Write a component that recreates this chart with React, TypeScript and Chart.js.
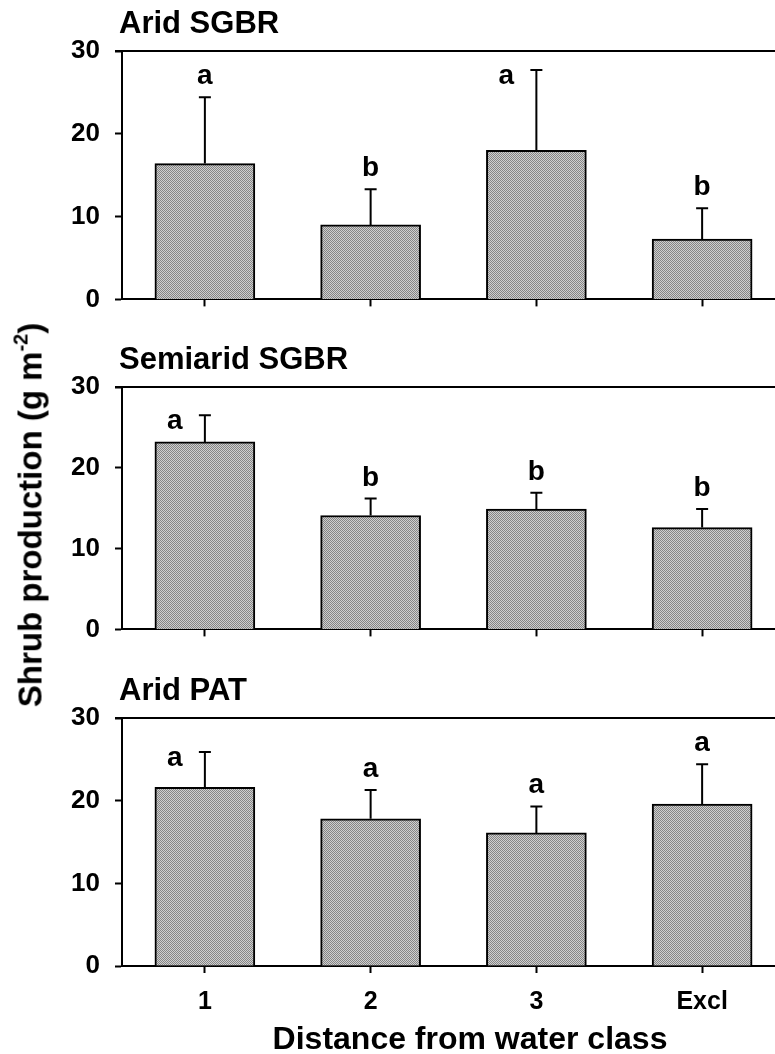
import React, { useEffect, useRef } from 'react';
import { Chart, registerables } from 'chart.js';

Chart.register(...registerables);

const FONT = '"Liberation Sans", Arial, Helvetica, sans-serif';

const categories = ['1', '2', '3', 'Excl'];
const yTicks = [0, 10, 20, 30];

const aridSgbrTitle = 'Arid SGBR';
const aridSgbrMean = [16.4, 9.0, 18.0, 7.3];
const aridSgbrSe = [8.0, 4.3, 9.7, 3.7];
const aridSgbrLetters = ['a', 'b', 'a', 'b'];

const semiaridSgbrTitle = 'Semiarid SGBR';
const semiaridSgbrMean = [23.2, 14.1, 14.9, 12.6];
const semiaridSgbrSe = [3.3, 2.1, 2.0, 2.3];
const semiaridSgbrLetters = ['a', 'b', 'b', 'b'];

const aridPatTitle = 'Arid PAT';
const aridPatMean = [21.6, 17.8, 16.1, 19.6];
const aridPatSe = [4.3, 3.5, 3.2, 4.8];
const aridPatLetters = ['a', 'a', 'a', 'a'];

const xTitle = 'Distance from water class';

type PanelCfg = {
  title: string;
  mean: number[];
  se: number[];
  letters: string[];
  padTop: number;
  xHeight: number;
  showX: boolean;
  xTitle?: string;
};

function makeAnnotPlugin(cfg: PanelCfg) {
  return {
    id: 'annot',
    afterDatasetsDraw(chart: any) {
      const ctx = chart.ctx as CanvasRenderingContext2D;
      const { left, right, top, bottom } = chart.chartArea;
      const yScale = chart.scales.y;
      const meta = chart.getDatasetMeta(0);
      ctx.save();
      ctx.strokeStyle = '#000';
      ctx.fillStyle = '#000';
      ctx.lineWidth = 2;
      // top frame line
      ctx.beginPath();
      ctx.moveTo(left - 7, top);
      ctx.lineTo(right, top);
      ctx.stroke();
      // error bars + letters
      meta.data.forEach((bar: any, i: number) => {
        const x = bar.x;
        const yb = bar.y;
        const yt = yScale.getPixelForValue(cfg.mean[i] + cfg.se[i]);
        ctx.beginPath();
        ctx.moveTo(x, yb);
        ctx.lineTo(x, yt);
        ctx.moveTo(x - 6, yt);
        ctx.lineTo(x + 6, yt);
        ctx.stroke();
        ctx.font = `bold 28px ${FONT}`;
        ctx.textAlign = 'center';
        ctx.textBaseline = 'alphabetic';
        if (yt - top < 40) {
          ctx.fillText(cfg.letters[i], x - 30, yt + 14);
        } else {
          ctx.fillText(cfg.letters[i], x, yt - 13);
        }
      });
      // panel title
      ctx.font = `bold 31px ${FONT}`;
      ctx.textAlign = 'left';
      ctx.textBaseline = 'alphabetic';
      ctx.fillText(cfg.title, left - 3, top - 18);
      if (cfg.xTitle) {
        ctx.font = `bold 32px ${FONT}`;
        ctx.textAlign = 'center';
        ctx.fillText(cfg.xTitle, 470, bottom + 83);
      }
      ctx.restore();
    },
  };
}

function buildChart(canvas: HTMLCanvasElement, cfg: PanelCfg, pattern: any) {
  return new Chart(canvas, {
    type: 'bar',
    data: {
      labels: categories,
      datasets: [
        {
          data: cfg.mean,
          backgroundColor: pattern,
          borderColor: '#000',
          borderWidth: 2,
          borderSkipped: 'bottom',
          barThickness: 100,
        } as any,
      ],
    },
    options: {
      responsive: false,
      animation: false,
      events: [],
      layout: { padding: { top: cfg.padTop, left: 0, right: 0, bottom: 0 } },
      plugins: {
        legend: { display: false },
        tooltip: { enabled: false },
        title: { display: false },
      },
      scales: {
        x: {
          type: 'category',
          offset: true,
          grid: {
            offset: false,
            drawOnChartArea: false,
            drawTicks: true,
            tickLength: 7,
            tickColor: '#000',
            tickWidth: 2,
            color: '#000',
          },
          border: { display: true, color: '#000', width: 2 },
          ticks: {
            display: cfg.showX,
            color: '#000',
            font: { family: FONT, size: 25, weight: 'bold' },
            padding: 14,
            maxRotation: 0,
            autoSkip: false,
          },
          afterFit: (s: any) => {
            s.height = cfg.xHeight;
          },
        },
        y: {
          min: 0,
          max: 30,
          grid: {
            drawOnChartArea: false,
            drawTicks: true,
            tickLength: 7,
            tickColor: '#000',
            tickWidth: 2,
          },
          border: { display: true, color: '#000', width: 2 },
          ticks: {
            color: '#000',
            font: { family: FONT, size: 26, weight: 'bold' },
            padding: 15,
          },
          afterBuildTicks: (s: any) => {
            s.ticks = yTicks.map((v) => ({ value: v }));
          },
          afterFit: (s: any) => {
            s.width = 122;
          },
        },
      },
    } as any,
    plugins: [makeAnnotPlugin(cfg)],
  });
}

export default function App() {
  const r1 = useRef<HTMLCanvasElement>(null);
  const r2 = useRef<HTMLCanvasElement>(null);
  const r3 = useRef<HTMLCanvasElement>(null);

  useEffect(() => {
    document.body.style.margin = '0';
    const pc = document.createElement('canvas');
    pc.width = 2;
    pc.height = 2;
    const pctx = pc.getContext('2d')!;
    pctx.fillStyle = '#cfcfcf';
    pctx.fillRect(0, 0, 2, 2);
    pctx.fillStyle = '#858585';
    pctx.fillRect(0, 0, 1, 1);
    pctx.fillRect(1, 1, 1, 1);
    const pattern = pctx.createPattern(pc, 'repeat');

    const panels: PanelCfg[] = [
      { title: aridSgbrTitle, mean: aridSgbrMean, se: aridSgbrSe, letters: aridSgbrLetters, padTop: 51, xHeight: 28, showX: false },
      { title: semiaridSgbrTitle, mean: semiaridSgbrMean, se: semiaridSgbrSe, letters: semiaridSgbrLetters, padTop: 57, xHeight: 25, showX: false },
      { title: aridPatTitle, mean: aridPatMean, se: aridPatSe, letters: aridPatLetters, padTop: 58, xHeight: 88, showX: true, xTitle },
    ];
    const canvases = [r1.current!, r2.current!, r3.current!];
    const charts = canvases.map((c, i) => buildChart(c, panels[i], pattern));
    return () => charts.forEach((c) => c.destroy());
  }, []);

  const cs = (top: number, h: number): React.CSSProperties => ({
    position: 'absolute',
    left: 0,
    top,
    width: 785,
    height: h,
  });

  return (
    <div style={{ position: 'relative', width: 775, height: 1054, overflow: 'hidden', background: '#fff' }}>
      <canvas ref={r1} width={785} height={330} style={cs(0, 330)} />
      <canvas ref={r2} width={785} height={330} style={cs(330, 330)} />
      <canvas ref={r3} width={785} height={394} style={cs(660, 394)} />
      <div
        style={{
          position: 'absolute',
          left: 30,
          top: 515,
          transform: 'translate(-50%, -50%) rotate(-90deg)',
          whiteSpace: 'nowrap',
          fontFamily: FONT,
          fontWeight: 'bold',
          fontSize: 33,
          lineHeight: 1,
          color: '#000',
        }}
      >
        Shrub production (g m
        <span style={{ fontSize: 20, position: 'relative', top: -14 }}>-2</span>)
      </div>
    </div>
  );
}
